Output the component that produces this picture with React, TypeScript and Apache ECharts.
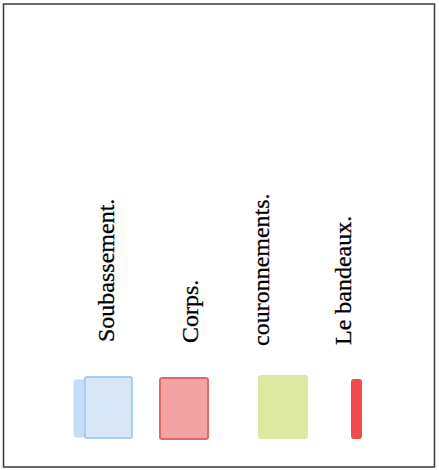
import React, { useEffect, useRef } from "react";
import * as echarts from "echarts";

// Legend items (key of the facade drawing)
const labels: string[] = ["Soubassement.", "Corps.", "couronnements.", "Le bandeaux."];
const fills: string[] = ["#d7e7f8", "#f4a3a3", "#dde9a2", "#f24b4b"];
const strokes: string[] = ["#a9ccf0", "#e06a6a", "#dde9a2", "#f24b4b"];

// layout (screen positions)
const textX = [106, 190, 261, 343];
const textY = [342, 343, 346, 345];
const swatch = [
  { x: 85, y: 377, w: 47, h: 61 },
  { x: 160, y: 378, w: 48, h: 61 },
  { x: 259, y: 376, w: 48, h: 62 },
  { x: 352, y: 380, w: 9, h: 58 },
];

export default function App() {
  const ref = useRef<HTMLDivElement>(null);
  useEffect(() => {
    if (!ref.current) return;
    const chart = echarts.init(ref.current, undefined, { renderer: "svg" });
    const elements: any[] = [
      {
        type: "rect",
        shape: { x: 3.5, y: 4, width: 431, height: 463 },
        style: { fill: "#ffffff", stroke: "#3a3a3a", lineWidth: 1.5 },
      },
      // back tab of the blue swatch
      {
        type: "rect",
        shape: { x: 74, y: 380, width: 14, height: 57, r: 2 },
        style: { fill: "#c6ddf5", stroke: "#c6ddf5", lineWidth: 1 },
      },
    ];
    labels.forEach((lab, i) => {
      const s = swatch[i];
      elements.push({
        type: "rect",
        shape: { x: s.x, y: s.y, width: s.w, height: s.h, r: 2 },
        style: { fill: fills[i], stroke: strokes[i], lineWidth: 2 },
      });
      elements.push({
        type: "text",
        x: textX[i],
        y: textY[i],
        rotation: Math.PI / 2,
        style: {
          text: lab,
          fill: "#000000",
          font: '24px "Liberation Serif", "Times New Roman", serif',
          align: "left",
          verticalAlign: "middle",
          stroke: "#000000",
          lineWidth: 0.3,
        },
      });
    });
    chart.setOption({
      animation: false,
      graphic: { elements },
    });
    return () => chart.dispose();
  }, []);
  return <div ref={ref} style={{ width: 439, height: 470, position: "absolute", left: 0, top: 0 }} />;
}
